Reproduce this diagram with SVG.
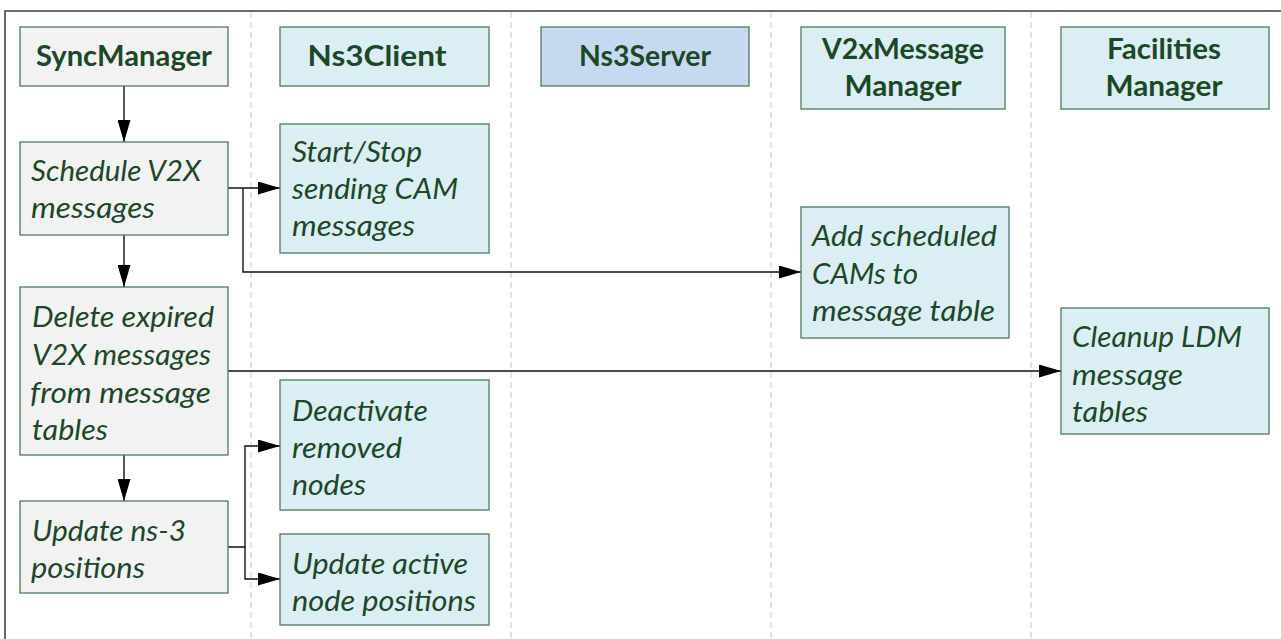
<svg xmlns="http://www.w3.org/2000/svg" width="1281" height="639" viewBox="0 0 1281 639">
<defs>
<style>
.lane{stroke:#cfcfcf;stroke-width:1.2;stroke-dasharray:6 4;fill:none}
.frame{stroke:#3a3a3a;stroke-width:1.5;fill:none}
.gray{fill:#f2f2f2;stroke:#4f7a5c;stroke-width:1.3}
.blue{fill:#dbeef3;stroke:#4f7a5c;stroke-width:1.3}
.srv{fill:#c6d9f0;stroke:#4f7a5c;stroke-width:1.3}
.h{font-family:Lato,"Liberation Sans",sans-serif;font-weight:bold;font-size:28px;fill:#1b4826;text-anchor:middle}
.t{font-family:Lato,"Liberation Sans",sans-serif;font-style:italic;font-size:28px;fill:#1b4826}
.c{stroke:#111;stroke-width:1.4;fill:none}
</style>
<marker id="ah" markerWidth="22" markerHeight="13" refX="22" refY="6.5" orient="auto" markerUnits="userSpaceOnUse">
<path d="M0,0 L22,6.5 L0,13 Z" fill="#000"/>
</marker>
</defs>
<rect x="0" y="0" width="1281" height="639" fill="#fff"/>
<g id="frame">
<path class="frame" d="M5,639 L5,11 L1281,11"/>
<path class="lane" d="M251,12 V639 M511,12 V639 M771,12 V639 M1031,12 V639"/>
</g>
<g id="connectors">
<path class="c" d="M124,86 V142" marker-end="url(#ah)"/>
<path class="c" d="M228,188 H280" marker-end="url(#ah)"/>
<path class="c" d="M243,188 V272 H801" marker-end="url(#ah)"/>
<path class="c" d="M124,235 V287" marker-end="url(#ah)"/>
<path class="c" d="M228,371 H1061" marker-end="url(#ah)"/>
<path class="c" d="M124,455 V501" marker-end="url(#ah)"/>
<path class="c" d="M228,547 H245 V446 H280" marker-end="url(#ah)"/>
<path class="c" d="M245,547 V579 H280" marker-end="url(#ah)"/>
</g>
<g id="n-syncmanager">
<rect class="gray" x="20" y="27" width="208" height="59"/>
<text class="h" x="124" y="66" textLength="176" lengthAdjust="spacingAndGlyphs">SyncManager</text>
</g>
<g id="n-ns3client">
<rect class="blue" x="280" y="27" width="209" height="59"/>
<text class="h" x="377" y="66" textLength="139" lengthAdjust="spacingAndGlyphs">Ns3Client</text>
</g>
<g id="n-ns3server">
<rect class="srv" x="541" y="27" width="208" height="59"/>
<text class="h" x="645" y="66" textLength="132" lengthAdjust="spacingAndGlyphs">Ns3Server</text>
</g>
<g id="n-v2xmm">
<rect class="blue" x="801" y="27" width="204" height="82"/>
<text class="h" x="903" y="59" textLength="162" lengthAdjust="spacingAndGlyphs">V2xMessage</text>
<text class="h" x="903" y="96" textLength="117" lengthAdjust="spacingAndGlyphs">Manager</text>
</g>
<g id="n-facilities">
<rect class="blue" x="1061" y="27" width="208" height="82"/>
<text class="h" x="1164" y="59" textLength="114" lengthAdjust="spacingAndGlyphs">Facilities</text>
<text class="h" x="1164" y="96" textLength="117" lengthAdjust="spacingAndGlyphs">Manager</text>
</g>
<g id="n-schedule">
<rect class="gray" x="20" y="142" width="208" height="93"/>
<text class="t" x="31" y="181" textLength="170" lengthAdjust="spacingAndGlyphs">Schedule V2X</text>
<text class="t" x="31" y="218" textLength="124" lengthAdjust="spacingAndGlyphs">messages</text>
</g>
<g id="n-startstop">
<rect class="blue" x="280" y="124" width="209" height="129"/>
<text class="t" x="292" y="162" textLength="130" lengthAdjust="spacingAndGlyphs">Start/Stop</text>
<text class="t" x="292" y="199" textLength="166" lengthAdjust="spacingAndGlyphs">sending CAM</text>
<text class="t" x="292" y="236" textLength="123" lengthAdjust="spacingAndGlyphs">messages</text>
</g>
<g id="n-addscheduled">
<rect class="blue" x="801" y="207" width="208" height="131"/>
<text class="t" x="812" y="246" textLength="185" lengthAdjust="spacingAndGlyphs">Add scheduled</text>
<text class="t" x="812" y="284" textLength="106" lengthAdjust="spacingAndGlyphs">CAMs to</text>
<text class="t" x="812" y="321" textLength="183" lengthAdjust="spacingAndGlyphs">message table</text>
</g>
<g id="n-delete">
<rect class="gray" x="20" y="287" width="208" height="168"/>
<text class="t" x="32" y="327" textLength="182" lengthAdjust="spacingAndGlyphs">Delete expired</text>
<text class="t" x="32" y="365" textLength="179" lengthAdjust="spacingAndGlyphs">V2X messages</text>
<text class="t" x="30" y="403" textLength="181" lengthAdjust="spacingAndGlyphs">from message</text>
<text class="t" x="32" y="440" textLength="76" lengthAdjust="spacingAndGlyphs">tables</text>
</g>
<g id="n-cleanup">
<rect class="blue" x="1061" y="308" width="208" height="126"/>
<text class="t" x="1072" y="347" textLength="170" lengthAdjust="spacingAndGlyphs">Cleanup LDM</text>
<text class="t" x="1072" y="385" textLength="111" lengthAdjust="spacingAndGlyphs">message</text>
<text class="t" x="1072" y="422" textLength="76" lengthAdjust="spacingAndGlyphs">tables</text>
</g>
<g id="n-deactivate">
<rect class="blue" x="280" y="380" width="209" height="130"/>
<text class="t" x="292" y="421" textLength="136" lengthAdjust="spacingAndGlyphs">Deactivate</text>
<text class="t" x="292" y="458" textLength="110" lengthAdjust="spacingAndGlyphs">removed</text>
<text class="t" x="292" y="495" textLength="74" lengthAdjust="spacingAndGlyphs">nodes</text>
</g>
<g id="n-updatens3">
<rect class="gray" x="20" y="501" width="208" height="92"/>
<text class="t" x="32" y="541" textLength="154" lengthAdjust="spacingAndGlyphs">Update ns-3</text>
<text class="t" x="31" y="578" textLength="114" lengthAdjust="spacingAndGlyphs">positions</text>
</g>
<g id="n-updateactive">
<rect class="blue" x="280" y="534" width="209" height="91"/>
<text class="t" x="292" y="574" textLength="176" lengthAdjust="spacingAndGlyphs">Update active</text>
<text class="t" x="292" y="611" textLength="184" lengthAdjust="spacingAndGlyphs">node positions</text>
</g>
</svg>
